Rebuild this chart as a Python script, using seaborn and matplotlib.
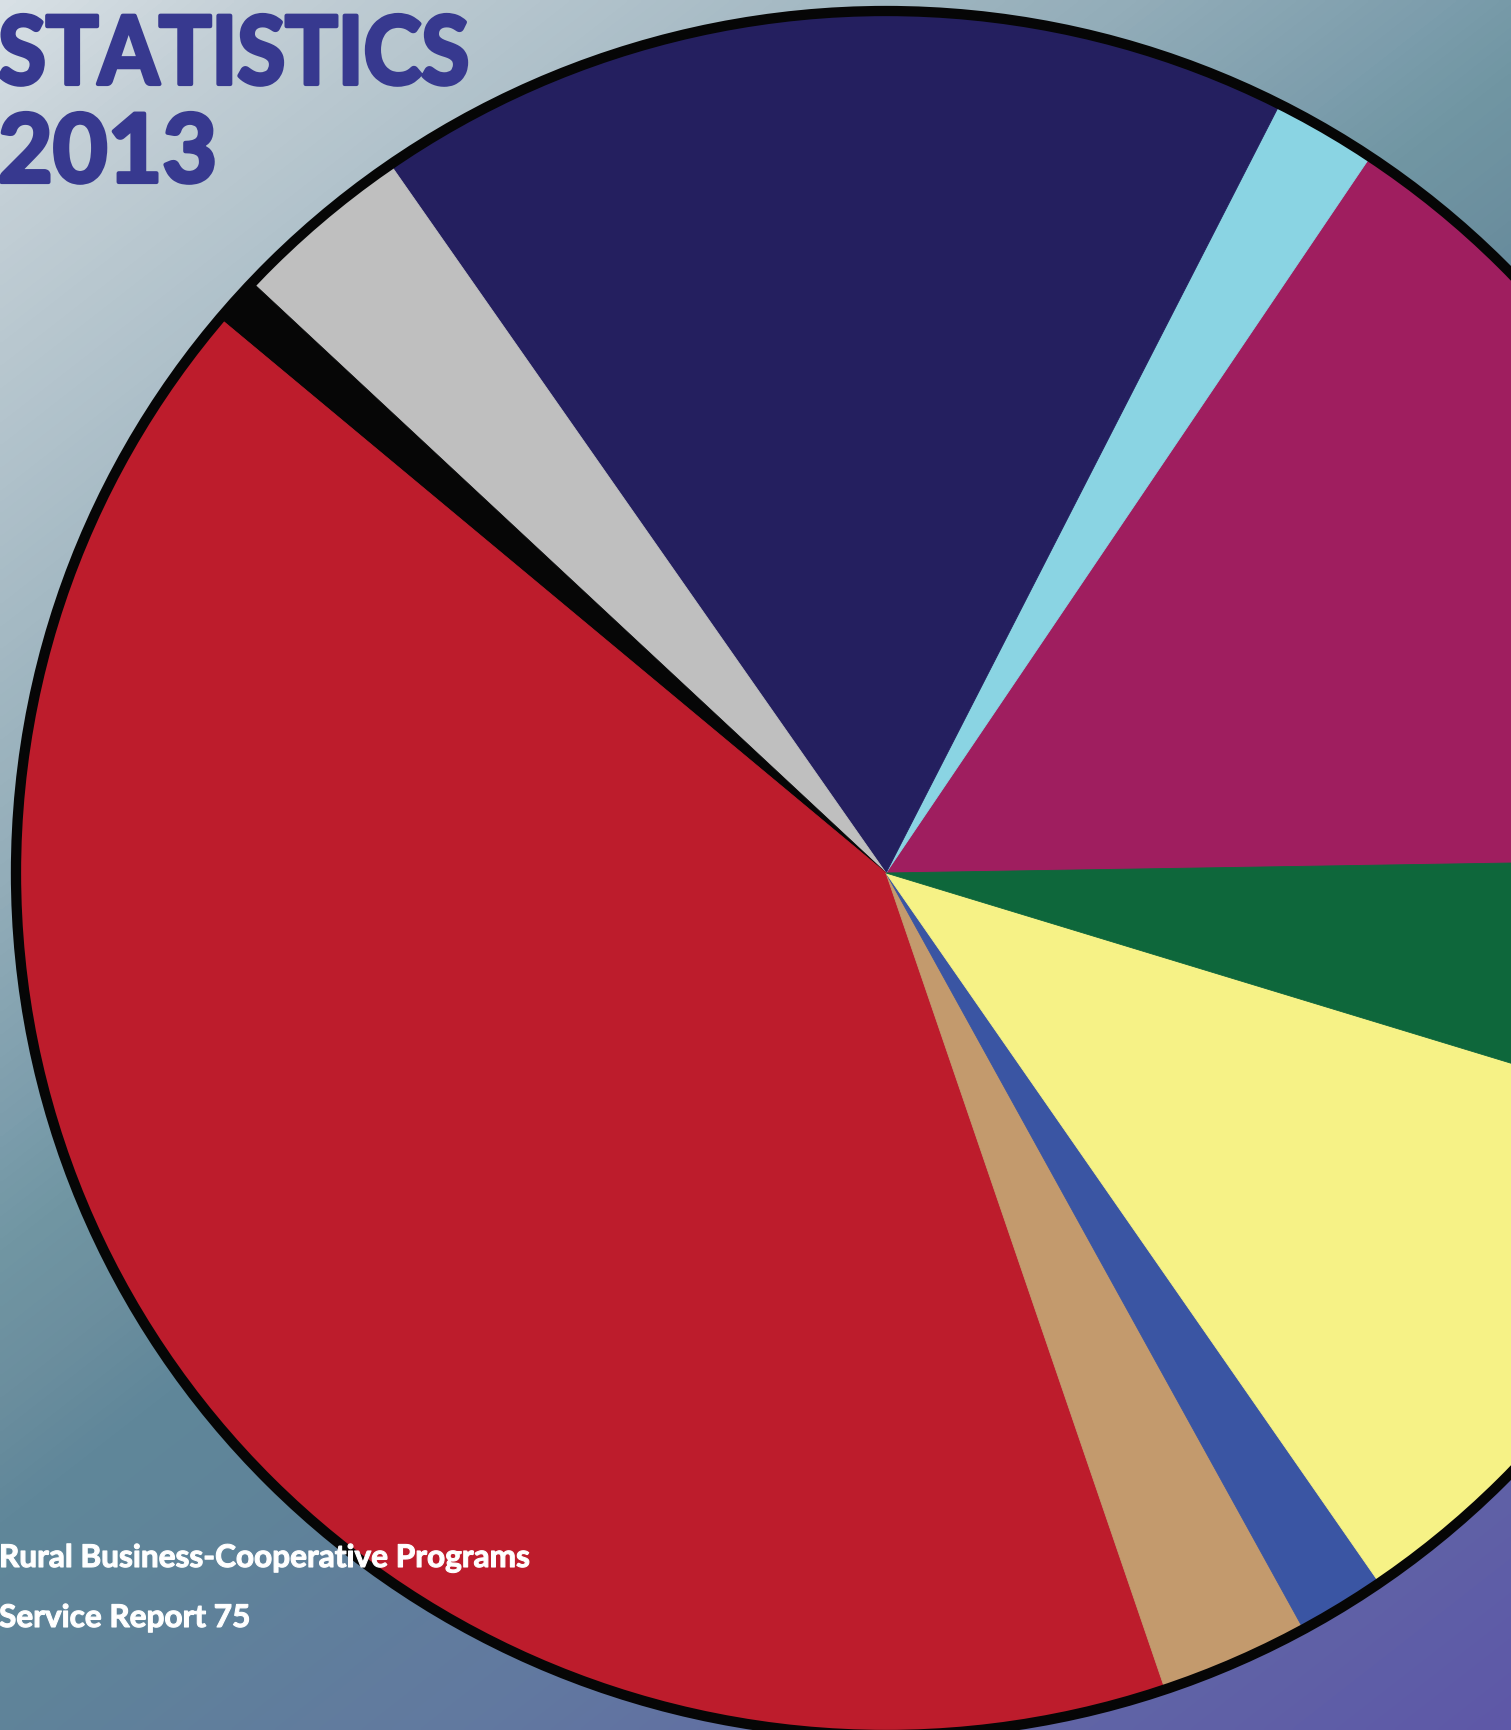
import numpy as np
import matplotlib
matplotlib.use("Agg")
import matplotlib.pyplot as plt
import matplotlib.patheffects as pe
from matplotlib.colors import LinearSegmentedColormap
from matplotlib.transforms import Affine2D
import seaborn as sns

# Share of cooperatives by category (percent), counter-clockwise from 0.9 degrees
categories = ["Magenta", "Light blue", "Navy", "Gray", "Black",
              "Red", "Tan", "Blue", "Yellow", "Green"]
shares = [15.35, 1.92, 17.12, 3.34, 0.89, 41.32, 2.77, 1.63, 10.66, 5.00]
slice_colors = ["#9f1e5f", "#8ad4e3", "#241f5f", "#bfbfbf", "#060606",
                "#bd1c2c", "#c39a6d", "#3a55a3", "#f6f286", "#0e673b"]

title_lines = ["STATISTICS", "2013"]
footer_lines = ["Rural Business-Cooperative Programs", "Service Report 75"]

sns.set_theme(style="white")
plt.rcParams["font.family"] = ["Lato", "DejaVu Sans"]

W, H = 1511, 1730
fig = plt.figure(figsize=(W / 100, H / 100), dpi=100)
ax = fig.add_axes([0, 0, 1, 1])

# The pie is drawn slightly wider than tall
stretch = 1.0093
XW = W / stretch

# Background: linear gradient running from the top-left corner
# towards the bottom-right corner (light grey -> teal -> violet)
stops = [(0, "#d8e0e5"), (200, "#c3cfd6"), (880, "#93adb9"),
         (1130, "#7c9dac"), (1250, "#7196a3"), (1400, "#6b8e9e"),
         (1520, "#60879a"), (1700, "#5f8499"), (2090, "#6279a0"),
         (2590, "#6064a6"), (2910, "#5e58a8")]
pmax = stops[-1][0]
bg_cmap = LinearSegmentedColormap.from_list(
    "bg", [(p / pmax, c) for p, c in stops])
xs = np.linspace(0, W, 400)
ys = np.linspace(0, H, 460)
X, Y = np.meshgrid(xs, ys)
P = (0.78 * X + Y) / pmax
ax.imshow(P, cmap=bg_cmap, vmin=0, vmax=1, extent=[0, XW, 0, H],
          origin="upper", aspect="auto", zorder=0, interpolation="bilinear")

palette = sns.color_palette(slice_colors)
cx, cy, r = 886 / stretch, H - 873, 862
wedges, _ = ax.pie(shares, colors=palette, startangle=0.925, counterclock=True,
                   center=(cx, cy), radius=r, frame=True,
                   wedgeprops=dict(linewidth=0.6))
for w in wedges:
    w.set_edgecolor(w.get_facecolor())
    w.set_zorder(2)
ax.add_patch(plt.Circle((cx, cy), r, fill=False, edgecolor="#060606",
                        linewidth=7.4, zorder=3))
ax.set_aspect("auto")
ax.set_xlim(0, XW)
ax.set_ylim(0, H)
ax.set_axis_off()


class Squeezed(pe.AbstractPathEffect):
    """Draw glyphs narrowed horizontally, with an optional same-colour stroke."""

    def __init__(self, sx=1.0, stroke=0.0):
        super().__init__()
        self.sx = sx
        self.stroke = stroke

    def draw_path(self, renderer, gc, tpath, affine, rgbFace=None):
        aff = Affine2D().scale(self.sx, 1.0) + affine
        if self.stroke > 0:
            gc0 = renderer.new_gc()
            gc0.copy_properties(gc)
            gc0.set_linewidth(self.stroke)
            gc0.set_foreground(rgbFace)
            gc0.set_joinstyle("round")
            renderer.draw_path(gc0, tpath, aff, rgbFace)
            gc0.restore()
        else:
            renderer.draw_path(gc, tpath, aff, rgbFace)


def put(xpx, ypx, s, **kw):
    fig.text(xpx / W, 1 - ypx / H, s, ha="left", va="baseline", zorder=4, **kw)


title_color = "#37398f"
put(-2, 84, title_lines[0], fontsize=68, fontweight="bold", color=title_color,
    path_effects=[Squeezed(sx=0.925, stroke=3.0)])
put(-2, 182, title_lines[1], fontsize=68, fontweight="bold", color=title_color,
    path_effects=[Squeezed(sx=1.0, stroke=3.0)])

put(-1, 1567, footer_lines[0], fontsize=22.5, fontweight="bold", color="white",
    path_effects=[Squeezed(sx=1.01, stroke=0.8)])
put(-1, 1627, footer_lines[1], fontsize=22.5, fontweight="bold", color="white",
    path_effects=[Squeezed(sx=1.01, stroke=0.8)])

fig.savefig("out.png", dpi=100)
